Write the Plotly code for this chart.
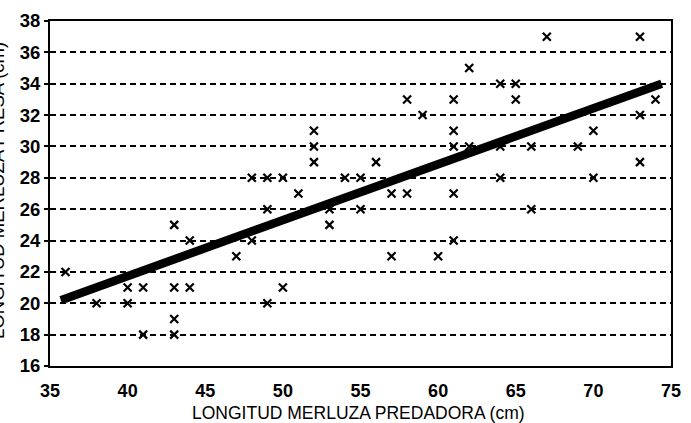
import plotly.graph_objects as go

# Observed points: predator length (x) vs prey length (y)
pred_len = [36, 38, 40, 40, 41, 41, 43, 43, 43, 43, 44, 44, 47, 48, 48, 49, 49, 49,
            50, 50, 51, 52, 52, 52, 53, 53, 54, 55, 55, 56, 57, 57, 58, 58, 59, 60,
            61, 61, 61, 61, 61, 62, 62, 64, 64, 64, 65, 65, 66, 66, 67, 69, 70, 70,
            73, 73, 73, 74]
prey_len = [22, 20, 21, 20, 21, 18, 25, 21, 19, 18, 24, 21, 23, 28, 24, 28, 26, 20,
            28, 21, 27, 31, 30, 29, 26, 25, 28, 28, 26, 29, 27, 23, 33, 27, 32, 23,
            33, 31, 30, 27, 24, 35, 30, 34, 30, 28, 34, 33, 30, 26, 37, 30, 31, 28,
            37, 32, 29, 33]

# Fitted regression line endpoints
fit_x = [35.7, 74.4]
fit_y = [20.2, 34.0]

x_ticks = [35, 40, 45, 50, 55, 60, 65, 70, 75]
y_ticks = [16, 18, 20, 22, 24, 26, 28, 30, 32, 34, 36, 38]

FONT = "Liberation Sans, Arial, sans-serif"

fig = go.Figure()
fig.add_trace(go.Scatter(
    x=fit_x, y=fit_y, mode="lines",
    line=dict(color="black", width=8.5),
    hoverinfo="skip", showlegend=False,
))
fig.add_trace(go.Scatter(
    x=pred_len, y=prey_len, mode="markers",
    marker=dict(symbol="x-thin", size=8, color="black",
                line=dict(color="black", width=2.2)),
    showlegend=False,
))

fig.update_layout(
    width=691, height=423,
    margin=dict(l=50, r=10, t=18, b=57),
    paper_bgcolor="white", plot_bgcolor="white",
    font=dict(family=FONT, color="black"),
    xaxis=dict(
        range=[35, 75], tickvals=x_ticks, ticktext=[str(v) for v in x_ticks],
        showgrid=False, zeroline=False,
        showline=True, linecolor="black", linewidth=2, mirror=True,
        ticks="", ticklabelstandoff=7,
        tickfont=dict(size=18, family=FONT, color="black", weight="bold"),
    ),
    yaxis=dict(
        range=[16, 38], tickvals=y_ticks, ticktext=[str(v) for v in y_ticks],
        showgrid=True, gridcolor="black", gridwidth=1.6, griddash="6px,4px",
        zeroline=False,
        showline=True, linecolor="black", linewidth=2, mirror=True,
        ticks="outside", ticklen=4, tickwidth=2, tickcolor="black",
        tickfont=dict(size=18.5, family=FONT, color="black", weight="bold"),
    ),
    annotations=[
        dict(text="LONGITUD MERLUZA PREDADORA (cm)", xref="paper", yref="paper",
             x=0.497, y=-0.135, xanchor="center", yanchor="middle", showarrow=False,
             font=dict(size=17.5, family=FONT, color="black")),
        dict(text="LONGITUD MERLUZA PRESA (cm)", xref="paper", yref="paper",
             x=(-4 - 50) / 631, y=0.51, xanchor="center", yanchor="middle",
             textangle=-90, showarrow=False,
             font=dict(size=18.5, family=FONT, color="black")),
    ],
)

fig.write_html("out.html")
